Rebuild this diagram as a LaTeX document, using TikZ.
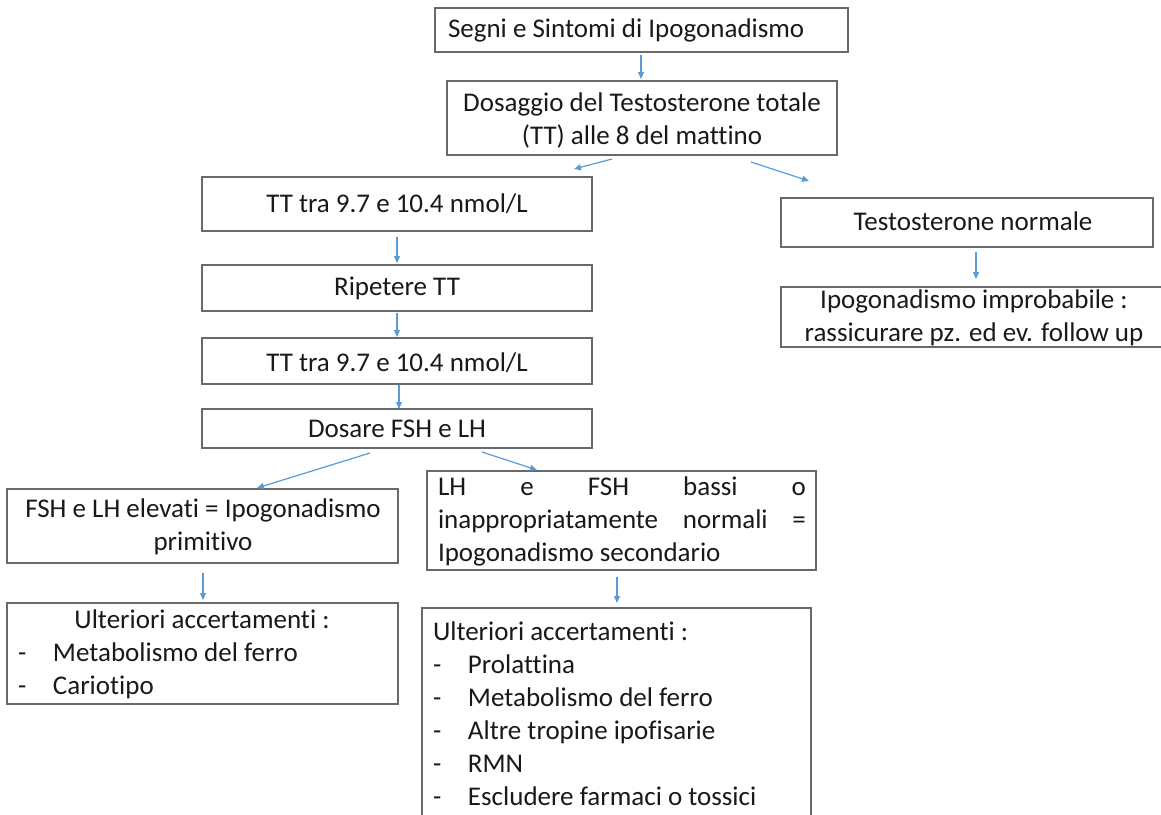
\documentclass[tikz,border=0pt]{standalone}
\usepackage{fontspec}
\setmainfont[Ligatures=CommonOff]{Carlito}
\usetikzlibrary{arrows.meta,calc}
\definecolor{boxgray}{RGB}{105,105,105}
\definecolor{arrblue}{RGB}{91,155,213}
\definecolor{txtcol}{RGB}{25,25,25}
\begin{document}
\begin{tikzpicture}[x=1pt,y=-1pt,
  box/.style={draw=boxgray, line width=1.5pt, inner sep=0pt, outer sep=0pt},
  txt/.style={inner sep=0pt, outer sep=0pt, text=txtcol, font=\fontsize{27}{33}\selectfont},
  ctxt/.style={txt, anchor=north, align=center},
  ltxt/.style={txt, anchor=north west, align=left},
  arr/.style={draw=arrblue, line width=1.2pt, -{Triangle[length=7pt,width=6pt]}}]
\useasboundingbox (0,0) rectangle (1161,814);
% boxes
\node[box, minimum width=413pt, minimum height=44pt] (b1) at (641.5,30) {};
\node[box, minimum width=390pt, minimum height=74pt] (b2) at (642,118) {};
\node[box, minimum width=390pt, minimum height=54pt] (b3) at (397,204) {};
\node[box, minimum width=390pt, minimum height=46pt] (b4) at (397,288) {};
\node[box, minimum width=390pt, minimum height=46pt] (b5) at (397,361) {};
\node[box, minimum width=390pt, minimum height=39pt] (b6) at (397,428.5) {};
\node[box, minimum width=372pt, minimum height=49pt] (b7) at (967,222.5) {};
\node[box, minimum width=386pt, minimum height=60pt] (b8) at (974,317) {};
\node[box, minimum width=391pt, minimum height=74pt] (b9) at (202.5,526) {};
\node[box, minimum width=391pt, minimum height=101pt] (b10) at (202.5,653.5) {};
\node[box, minimum width=389pt, minimum height=99pt] (b11) at (621.5,520.5) {};
\node[box, minimum width=389pt, minimum height=222pt] (b12) at (616.5,719) {};
% texts (north = baseline - 23.1)
\node[ltxt] (t1) at (448,13.9) {\strut Segni e Sintomi di Ipogonadismo};
\node[ctxt] (t2) at (642,87.9) {\strut Dosaggio del Testosterone totale\\(TT) alle 8 del mattino};
\node[ctxt] (t3) at (397,188.9) {\strut TT tra 9.7 e 10.4 nmol/L};
\node[ctxt] (t4) at (397,271.9) {\strut Ripetere TT};
\node[ctxt] (t5) at (397,347.9) {\strut TT tra 9.7 e 10.4 nmol/L};
\node[ctxt] (t6) at (397,413.9) {\strut Dosare FSH e LH};
\node[ctxt] (t7) at (973,206.9) {\strut Testosterone normale};
\node[ctxt] (t8) at (974,284.9) {\strut Ipogonadismo improbabile :\\rassicurare pz. ed ev. follow up};
\node[ctxt] (t9) at (203,493.9) {\strut FSH e LH elevati = Ipogonadismo\\primitivo};
\node[ctxt] (t10a) at (202,604.9) {\strut Ulteriori accertamenti :};
\node[ltxt] (t10b) at (18,637.9) {\strut\makebox[35pt][l]{-}Metabolismo del ferro\\\makebox[35pt][l]{-}Cariotipo};
\node[ltxt] (t11) at (438,471.9) {\strut\hbox to 368pt{LH\hfill e\hfill FSH\hfill bassi\hfill o}\\\hbox to 368pt{inappropriatamente\hfill normali\hfill =}\\Ipogonadismo secondario};
\node[ltxt] (t12) at (433,616.9) {\strut Ulteriori accertamenti :\\\makebox[35pt][l]{-}Prolattina\\\makebox[35pt][l]{-}Metabolismo del ferro\\\makebox[35pt][l]{-}Altre tropine ipofisarie\\\makebox[35pt][l]{-}RMN\\\makebox[35pt][l]{-}Escludere farmaci o tossici};
% arrows
\draw[arr] ($(b1.south)+(-0.5,3)$) -- ($(b2.north)+(-1,-2)$);
\draw[arr] ($(b2.south)+(-30,4)$) -- ($(b3.north east)+(-18,-8)$);
\draw[arr] ($(b2.south)+(109,7)$) -- ($(b7.north west)+(28,-17)$);
\draw[arr] ($(b3.south)+(0,6)$) -- ($(b4.north)+(0,-2)$);
\draw[arr] ($(b4.south)+(0,2)$) -- ($(b5.north)+(0,-1)$);
\draw[arr] ($(b5.south)+(2,1)$) -- ($(b6.north)+(2,0)$);
\draw[arr] ($(b7.south)+(9,5)$) -- ($(b8.north)+(2,-8)$);
\draw[arr] ($(b6.south)+(-27,5)$) -- ($(b9.north)+(54.5,-1)$);
\draw[arr] ($(b6.south)+(85,4)$) -- ($(b11.north)+(-84.5,-1)$);
\draw[arr] ($(b9.south)+(0.5,10)$) -- ($(b10.north)+(0.5,-3)$);
\draw[arr] ($(b11.south)+(-4.5,7)$) -- ($(b12.north)+(0.5,-5)$);
\end{tikzpicture}
\end{document}
